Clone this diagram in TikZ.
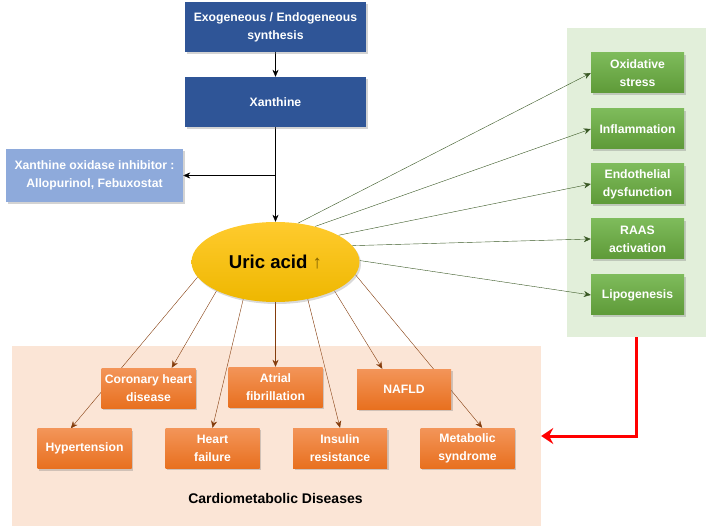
\documentclass[tikz,border=0pt]{standalone}
\usepackage{fontspec}
\setmainfont{Liberation Sans}
\usepackage{xcolor}
\usetikzlibrary{shapes,shadows,arrows.meta}
\definecolor{darkblue}{HTML}{2F5597}
\definecolor{paleblue}{HTML}{8EAADB}
\definecolor{greentop}{HTML}{7EBB5B}
\definecolor{greenbot}{HTML}{5E9A38}
\definecolor{greenpanel}{HTML}{E2EFDA}
\definecolor{greenline}{HTML}{385723}
\definecolor{orangetop}{HTML}{F39559}
\definecolor{orangebot}{HTML}{E8701F}
\definecolor{orangepanel}{HTML}{FBE5D6}
\definecolor{brownline}{HTML}{843C0C}
\definecolor{uricbot}{HTML}{EEB700}
\definecolor{urictop}{HTML}{FFCB2E}
\definecolor{upgold}{HTML}{7F6000}
\pgfdeclarelayer{back}
\pgfdeclarelayer{links}
\pgfsetlayers{back,links,main}
\tikzset{box/.style={rectangle,minimum width=93pt,minimum height=40pt,inner sep=1pt,align=center,text=white,font=\bfseries\fontsize{12.2}{18}\selectfont,drop shadow={shadow xshift=1.5pt,shadow yshift=-2pt,opacity=0.35}}}
\tikzset{bluebox/.style={box,fill=darkblue,minimum width=181pt,minimum height=50pt}}
\tikzset{inhbox/.style={box,fill=paleblue,minimum width=177pt,minimum height=53pt}}
\tikzset{greenbox/.style={box,top color=greentop,bottom color=greenbot}}
\tikzset{orangebox/.style={box,top color=orangetop,bottom color=orangebot,minimum width=94pt}}
\tikzset{panel/.style={rectangle,inner sep=0pt}}
\tikzset{ell/.style={ellipse,inner sep=0pt,minimum width=168pt,minimum height=80pt,top color=urictop,bottom color=uricbot,font=\bfseries\fontsize{18.6}{20}\selectfont,drop shadow={shadow xshift=1.5pt,shadow yshift=-2pt,opacity=0.3}}}

\begin{document}
\begin{tikzpicture}[x=1pt,y=-1pt,>={Stealth[length=7pt,width=6pt]},line width=1pt]
    \useasboundingbox (0,0) rectangle (709,526);
    \begin{pgfonlayer}{back}
    \node[panel,fill=greenpanel,minimum width=139pt,minimum height=309pt] (effects) at (636.5,182.5) {};
    \node[panel,fill=orangepanel,minimum width=529pt,minimum height=180pt] (cmd) at (276.5,436) {};
    \end{pgfonlayer}

    \node[bluebox] (exo) at (275.5,27) {Exogeneous / Endogeneous\\synthesis};
    \node[bluebox] (xan) at (275.5,102) {Xanthine};
    \node[inhbox] (inh) at (94.5,175.5) {Xanthine oxidase inhibitor :\\Allopurinol, Febuxostat};
    \node[ell] (uric) at (275.5,262) {Uric acid \textcolor{upgold}{↑}};
    \coordinate (split) at (xan.south |- inh.east);

    \node[greenbox] (ox) at (637.5,73) {Oxidative\\stress};
    \node[greenbox] (infl) at (637.5,129) {Inflammation};
    \node[greenbox] (endo) at (637.5,184) {Endothelial\\dysfunction};
    \node[greenbox] (raas) at (637.5,239) {RAAS\\activation};
    \node[greenbox] (lipo) at (637.5,295) {Lipogenesis};

    \node[orangebox] (chd) at (148.5,388) {Coronary heart\\disease};
    \node[orangebox] (af) at (275.5,387) {Atrial\\fibrillation};
    \node[orangebox] (nafld) at (404,389) {NAFLD};
    \node[orangebox] (hyp) at (84.5,448.5) {Hypertension};
    \node[orangebox] (hf) at (212.5,448) {Heart\\failure};
    \node[orangebox] (ir) at (340,448) {Insulin\\resistance};
    \node[orangebox] (ms) at (467.5,448) {Metabolic\\syndrome};
    \node[font=\bfseries\fontsize{14}{16}\selectfont] (cmdlabel) at (275.5,498) {Cardiometabolic Diseases};

    \begin{pgfonlayer}{links}
    \draw [->] (exo) to (xan);
    \draw [->] (xan) to (uric);
    \draw [->] (split) to (inh.east);

    \draw [->,greenline] (uric.60) to (ox.west);
    \draw [->,greenline] (uric.42) to (infl.west);
    \draw [->,greenline] (uric.23) to (endo.west);
    \draw [->,greenline] (uric.12) to (raas.west);
    \draw [->,greenline] (uric.1) to (lipo.west);

    \draw [->,brownline] (uric.191) to (hyp.124);
    \draw [->,brownline] (uric.206) to (chd.41);
    \draw [->,brownline] (uric.229) to (hf.north);
    \draw [->,brownline] (uric.270) to (af.north);
    \draw [->,brownline] (uric.311) to (ir.north);
    \draw [->,brownline] (uric.334) to (nafld.137);
    \draw [->,brownline] (uric.351) to (ms.54);

    \draw [-{Stealth[length=12pt,width=16pt,inset=4pt]},red,line width=3pt] (effects.south) |- (cmd.east);
    \end{pgfonlayer}
\end{tikzpicture}
\end{document}
